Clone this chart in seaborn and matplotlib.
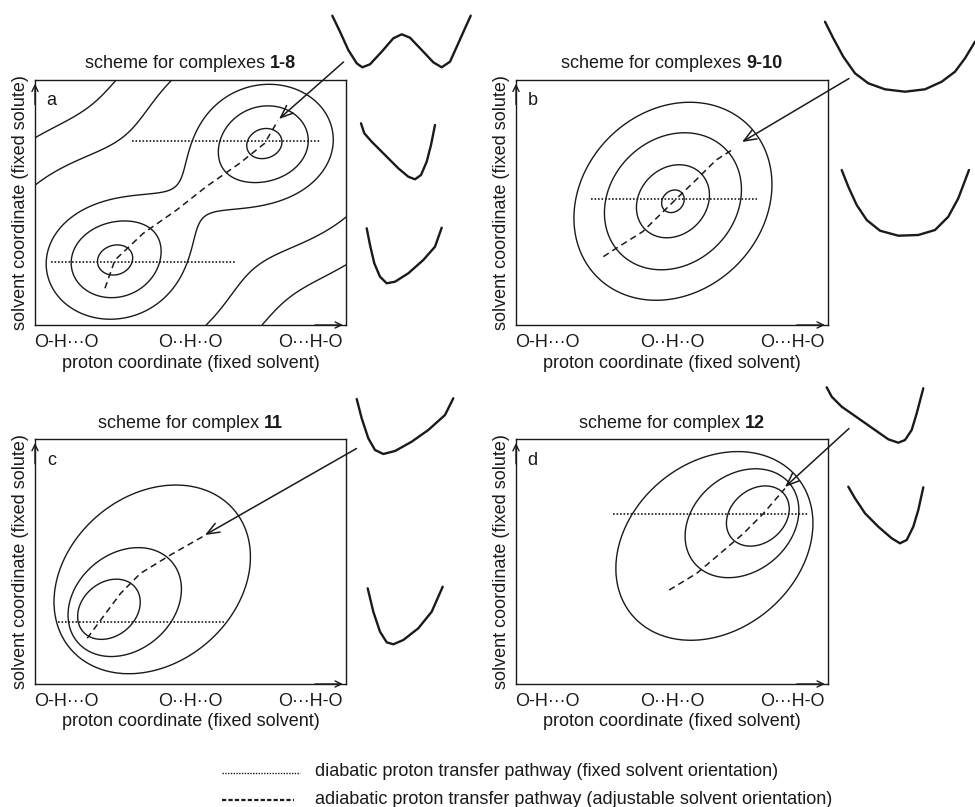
import numpy as np
import matplotlib
matplotlib.use("Agg")
import matplotlib.pyplot as plt
import seaborn as sns

sns.set_theme(style="white")
plt.rcParams["font.family"] = ["Liberation Sans", "DejaVu Sans"]

# ---------------- data ----------------
FIG_W, FIG_H = 975, 807
PW, PH = 312.0, 245.0      # panel size (px) used to keep schematic shapes isotropic
FS = 13

tick_pos = [0.10, 0.50, 0.885]
tick_labels = ["O-H\u00b7\u00b7\u00b7O", "O\u00b7\u00b7H\u00b7\u00b7O", "O\u00b7\u00b7\u00b7H-O"]
titles_regular = ["scheme for complexes", "scheme for complexes", "scheme for complex", "scheme for complex"]
titles_bold = ["1-8", "9-10", "11", "12"]
letters = ["a", "b", "c", "d"]
xlabel = "proton coordinate (fixed solvent)"
ylabel = "solvent coordinate (fixed solute)"

# panel a : double-well surface
a_well1 = (0.257, 0.265)
a_well2 = (0.738, 0.741)
a_stretch = (1.10, 0.95)
a_barrier = 3.53
a_width = 30.0
a_levels = [0.25, 1.6, 4.0, 12.8, 24.0]
a_diab_lo = ([0.053, 0.645], [0.259, 0.259])
a_diab_hi = ([0.313, 0.920], [0.751, 0.751])
a_adiab_x = [0.225, 0.257, 0.348, 0.455, 0.551, 0.658, 0.738, 0.781]
a_adiab_y = [0.150, 0.265, 0.374, 0.469, 0.565, 0.660, 0.741, 0.834]

# panel b : single well
b_center = (0.503, 0.505)
b_rho = 0.17
b_radii = [11.3, 36.5, 68.5, 99.0]
b_diab = ([0.240, 0.772], [0.515, 0.515])
b_adiab_x = [0.280, 0.321, 0.406, 0.509, 0.577, 0.641, 0.700]
b_adiab_y = [0.279, 0.313, 0.381, 0.509, 0.592, 0.673, 0.721]

# panel c : nested shells whose centres drift towards O..H..O
c_radii = [26.8, 48.5, 84.0]                 # minor semi-axis of each contour (px)
c_center_x = [0.2375, 0.2885, 0.3772]       # contour centres
c_center_y = [0.3053, 0.3347, 0.4278]
c_axis_angle, c_aspect = 40.0, 1.28
c_diab = ([0.074, 0.607], [0.255, 0.255])
c_adiab_x = [0.168, 0.211, 0.275, 0.339, 0.435, 0.547]
c_adiab_y = [0.187, 0.261, 0.370, 0.452, 0.527, 0.608]

# panel d : same surface as c, point-reflected (well near O...H-O)
d_reflect = (316.0 / PW, 243.0 / PH)
d_diab = ([0.312, 0.940], [0.694, 0.694])
d_adiab_x = [0.491, 0.579, 0.654, 0.729, 0.793, 0.862]
d_adiab_y = [0.384, 0.452, 0.533, 0.615, 0.697, 0.799]

# side sketches of 1D proton potentials (figure pixel frame)
sketches = {
    "a_top": ([332.3, 340, 348.3, 356.7, 362.3, 370, 381.7, 393.3, 401.7, 410, 421.7, 433.3, 441.7, 450, 458.3, 465, 470.7],
              [15.7, 31.7, 50, 63.3, 67.3, 64.3, 51.7, 38.3, 34.3, 37.7, 50, 62.3, 67.3, 61.7, 43.3, 28.3, 15.7]),
    "a_mid": ([361, 364.3, 371.7, 385, 398.3, 408.3, 415, 421, 426.7, 431, 435],
              [123.3, 133.3, 141.7, 155, 168.3, 176.7, 179.3, 175, 161.7, 145, 125]),
    "a_bot": ([366.7, 370, 374.3, 380, 386.7, 395, 408.3, 423.3, 435, 441.7],
              [228.3, 245, 263.3, 276.7, 283.3, 281.7, 273.3, 260, 246.7, 227.7]),
    "b_top": ([825, 833.3, 843.3, 855, 868.3, 885, 905, 925, 941.7, 955, 965, 975],
              [21.7, 38.3, 56.7, 73.3, 83.3, 89.3, 91.7, 89.3, 81.7, 71.7, 58.3, 41.7]),
    "b_bot": ([841.7, 848.3, 856.7, 866.7, 880, 898.3, 918.3, 935, 948.3, 958.3, 969],
              [170, 186.7, 205, 220, 230.7, 235.7, 235, 230, 216.7, 198.3, 170]),
    "c_top": ([356.7, 361.7, 368.3, 375, 383.3, 395, 411.7, 428.3, 445, 453.3],
              [399, 418.3, 438.3, 450, 454, 451, 441.7, 430, 415, 398.3]),
    "c_bot": ([367.7, 373.3, 380, 386.7, 393.3, 403.3, 418.3, 431.7, 442.7],
              [588.3, 611.7, 631.7, 642.3, 644.3, 640, 628.3, 611.7, 586.7]),
    "d_top": ([826.7, 831.7, 841.7, 858.3, 875, 888.3, 898.3, 905, 911.7, 916.7, 923.3],
              [387.3, 396.7, 406.7, 418.3, 430, 439.3, 442.7, 440, 430, 413.3, 388.3]),
    "d_bot": ([848.3, 855, 865, 878.3, 891.7, 900, 906.7, 913.3, 918.3, 923.3],
              [486.7, 498.3, 513.3, 526.7, 538.3, 543.3, 540, 526.7, 510, 487.3]),
}
arrow_starts = [(343.5, 62.0), (849.0, 78.5), (356.5, 448.5), (849.0, 428.5)]
arrow_tips = [(279.0, 119.0), (742.0, 142.0), (205.0, 535.0), (785.0, 487.0)]

legend_labels = ["diabatic proton transfer pathway (fixed solvent orientation)",
                 "adiabatic proton transfer pathway (adjustable solvent orientation)"]
legend_rows = [772.0, 799.0]
legend_sample_x = [(222.0, 300.0), (222.0, 294.0)]
legend_text_x = 315.0

# ---------------- surfaces ----------------
gx = np.linspace(0, 1, 500)
gy = np.linspace(0, 1, 500)
GX, GY = np.meshgrid(gx, gy)
PX, PY = GX * PW, GY * PH


def rotate(dx, dy, theta_deg):
    t = np.deg2rad(theta_deg)
    return dx * np.cos(t) + dy * np.sin(t), -dx * np.sin(t) + dy * np.cos(t)


def surf_a():
    sx, sy = a_stretch
    X, Y = PX / sx, PY / sy
    (x1, y1), (x2, y2) = a_well1, a_well2
    cx, cy = (x1 + x2) / 2 * PW / sx, (y1 + y2) / 2 * PH / sy
    ddx, ddy = (x2 - x1) * PW / sx, (y2 - y1) * PH / sy
    th = np.degrees(np.arctan2(ddy, ddx))
    vw = np.hypot(ddx, ddy) / 2
    v, u = rotate(X - cx, Y - cy, th)
    D = a_width * np.sqrt(a_barrier)
    e = (vw ** 2 - D ** 2) / (2 * D)
    sv = np.sqrt(v ** 2 + e ** 2)
    sw = np.sqrt(vw ** 2 + e ** 2)
    return (u / a_width) ** 2 + ((sv - sw) / a_width) ** 2


def surf_b():
    dx, dy = PX - b_center[0] * PW, PY - b_center[1] * PH
    return (dx ** 2 - 2 * b_rho * dx * dy + dy ** 2) / (1 - b_rho ** 2)


def surf_shells(X, Y):
    """size of the nested, drifting elliptical shell passing through each point"""
    cxs = np.array(c_center_x) * PW
    cys = np.array(c_center_y) * PH
    lo = np.full(X.shape, 0.5)
    hi = np.full(X.shape, 400.0)
    for _ in range(45):
        r = 0.5 * (lo + hi)
        cx = np.interp(r, c_radii, cxs)
        cy = np.interp(r, c_radii, cys)
        v, u = rotate(X - cx, Y - cy, c_axis_angle)
        inside = np.sqrt((v / (c_aspect * r)) ** 2 + (u / r) ** 2) <= 1
        hi = np.where(inside, r, hi)
        lo = np.where(inside, lo, r)
    return 0.5 * (lo + hi)


surf_c = surf_shells(PX, PY)
surf_d = surf_shells(d_reflect[0] * PW - PX, d_reflect[1] * PH - PY)

surfaces = [
    (surf_a(), a_levels),
    (surf_b(), [r ** 2 for r in b_radii]),
    (surf_c, c_radii),
    (surf_d, c_radii),
]
diabatic = [[a_diab_lo, a_diab_hi], [b_diab], [c_diab], [d_diab]]
adiabatic = [(a_adiab_x, a_adiab_y), (b_adiab_x, b_adiab_y), (c_adiab_x, c_adiab_y), (d_adiab_x, d_adiab_y)]

# ---------------- figure ----------------
fig = plt.figure(figsize=(FIG_W / 100, FIG_H / 100), dpi=100)
frames = [(35, 80, 311, 245), (516, 80, 312, 245), (35, 439.3, 311, 244.7), (516, 439.3, 312, 244.7)]
axes = []
for (l, t, w, h) in frames:
    ax = fig.add_axes([l / FIG_W, (FIG_H - t - h) / FIG_H, w / FIG_W, h / FIG_H])
    axes.append(ax)

DOT = (0, (1, 1.1))
DASH = (0, (4.2, 2.8))

for i, ax in enumerate(axes):
    V, lev = surfaces[i]
    ax.contour(gx, gy, V, levels=sorted(lev), colors="k", linewidths=1.0)
    for (xs, ys) in diabatic[i]:
        sns.lineplot(x=xs, y=ys, ax=ax, color="k", lw=1.2, linestyle=DOT, sort=False, estimator=None)
    xs, ys = adiabatic[i]
    sns.lineplot(x=xs, y=ys, ax=ax, color="k", lw=1.1, linestyle=DASH, sort=False, estimator=None)
    ax.set_xlim(0, 1)
    ax.set_ylim(0, 1)
    ax.set_xticks(tick_pos)
    ax.set_xticklabels(tick_labels)
    ax.tick_params(axis="x", which="major", length=0, pad=6.5, labelsize=FS, colors="k")
    if i < 2:
        ax.set_xticks([0.5], minor=True)
        ax.tick_params(axis="x", which="minor", bottom=True, direction="in", length=4, width=1.0, color="k")
    ax.set_yticks([])
    ax.set_xlabel(xlabel, fontsize=FS, labelpad=2.5, color="k")
    ax.set_ylabel(ylabel, fontsize=FS, labelpad=4, color="k")
    for sp in ax.spines.values():
        sp.set_color("k")
        sp.set_linewidth(1.0)
        sp.set_visible(True)
    ax.text(0.053, 0.915, letters[i], transform=ax.transAxes, fontsize=FS, ha="center", va="center", color="k")
    axarrow = dict(arrowstyle="->,head_length=0.45,head_width=0.22", lw=1.0, color="k",
                   shrinkA=0, shrinkB=0, mutation_scale=10)
    ax.annotate("", xy=(0, 0.985), xytext=(0, 0.9), xycoords="axes fraction", arrowprops=axarrow)
    ax.annotate("", xy=(0.99, 0), xytext=(0.9, 0), xycoords="axes fraction", arrowprops=axarrow)

# titles with bold complex numbers
renderer = fig.canvas.get_renderer()
tmp1 = fig.text(0, 0, "a a", fontsize=FS)
tmp2 = fig.text(0, 0, "aa", fontsize=FS)
space_w = tmp1.get_window_extent(renderer).width - tmp2.get_window_extent(renderer).width
tmp1.remove()
tmp2.remove()
for i, ax in enumerate(axes):
    bb = ax.get_position()
    cx = (bb.x0 + bb.x1) / 2 * FIG_W
    yb = bb.y1 + 11.5 / FIG_H
    t1 = fig.text(0, yb, titles_regular[i], fontsize=FS, ha="left", va="baseline", color="k")
    t2 = fig.text(0, yb, titles_bold[i], fontsize=FS, weight="bold", ha="left", va="baseline", color="k")
    w1 = t1.get_window_extent(renderer).width
    w2 = t2.get_window_extent(renderer).width
    x0 = cx - (w1 + space_w + w2) / 2
    t1.set_x(x0 / FIG_W)
    t2.set_x((x0 + w1 + space_w) / FIG_W)

# overlay layer for sketches, arrows and legend
ov = fig.add_axes([0, 0, 1, 1])
ov.set_xlim(0, FIG_W)
ov.set_ylim(FIG_H, 0)
ov.axis("off")
for key, (xs, ys) in sketches.items():
    sns.lineplot(x=xs, y=ys, ax=ov, color="k", lw=1.7, sort=False, estimator=None)
for s, t in zip(arrow_starts, arrow_tips):
    ov.annotate("", xy=t, xytext=s, xycoords="data",
                arrowprops=dict(arrowstyle="->,head_length=0.75,head_width=0.3", lw=1.1, color="k",
                                shrinkA=0, shrinkB=0, mutation_scale=12))
# legend
legend_styles = [dict(lw=1.0, linestyle=(0, (1, 1))), dict(lw=1.6, linestyle=(0, (1.9, 1.0)))]
for row, (x0, x1), lab, sty in zip(legend_rows, legend_sample_x, legend_labels, legend_styles):
    sns.lineplot(x=[x0, x1], y=[row + 1, row + 1], ax=ov, color="k", sort=False, estimator=None, **sty)
    ov.text(legend_text_x, row, lab, fontsize=FS, ha="left", va="center", color="k")
ov.set_xlim(0, FIG_W)
ov.set_ylim(FIG_H, 0)

fig.savefig("out.png", dpi=100)
